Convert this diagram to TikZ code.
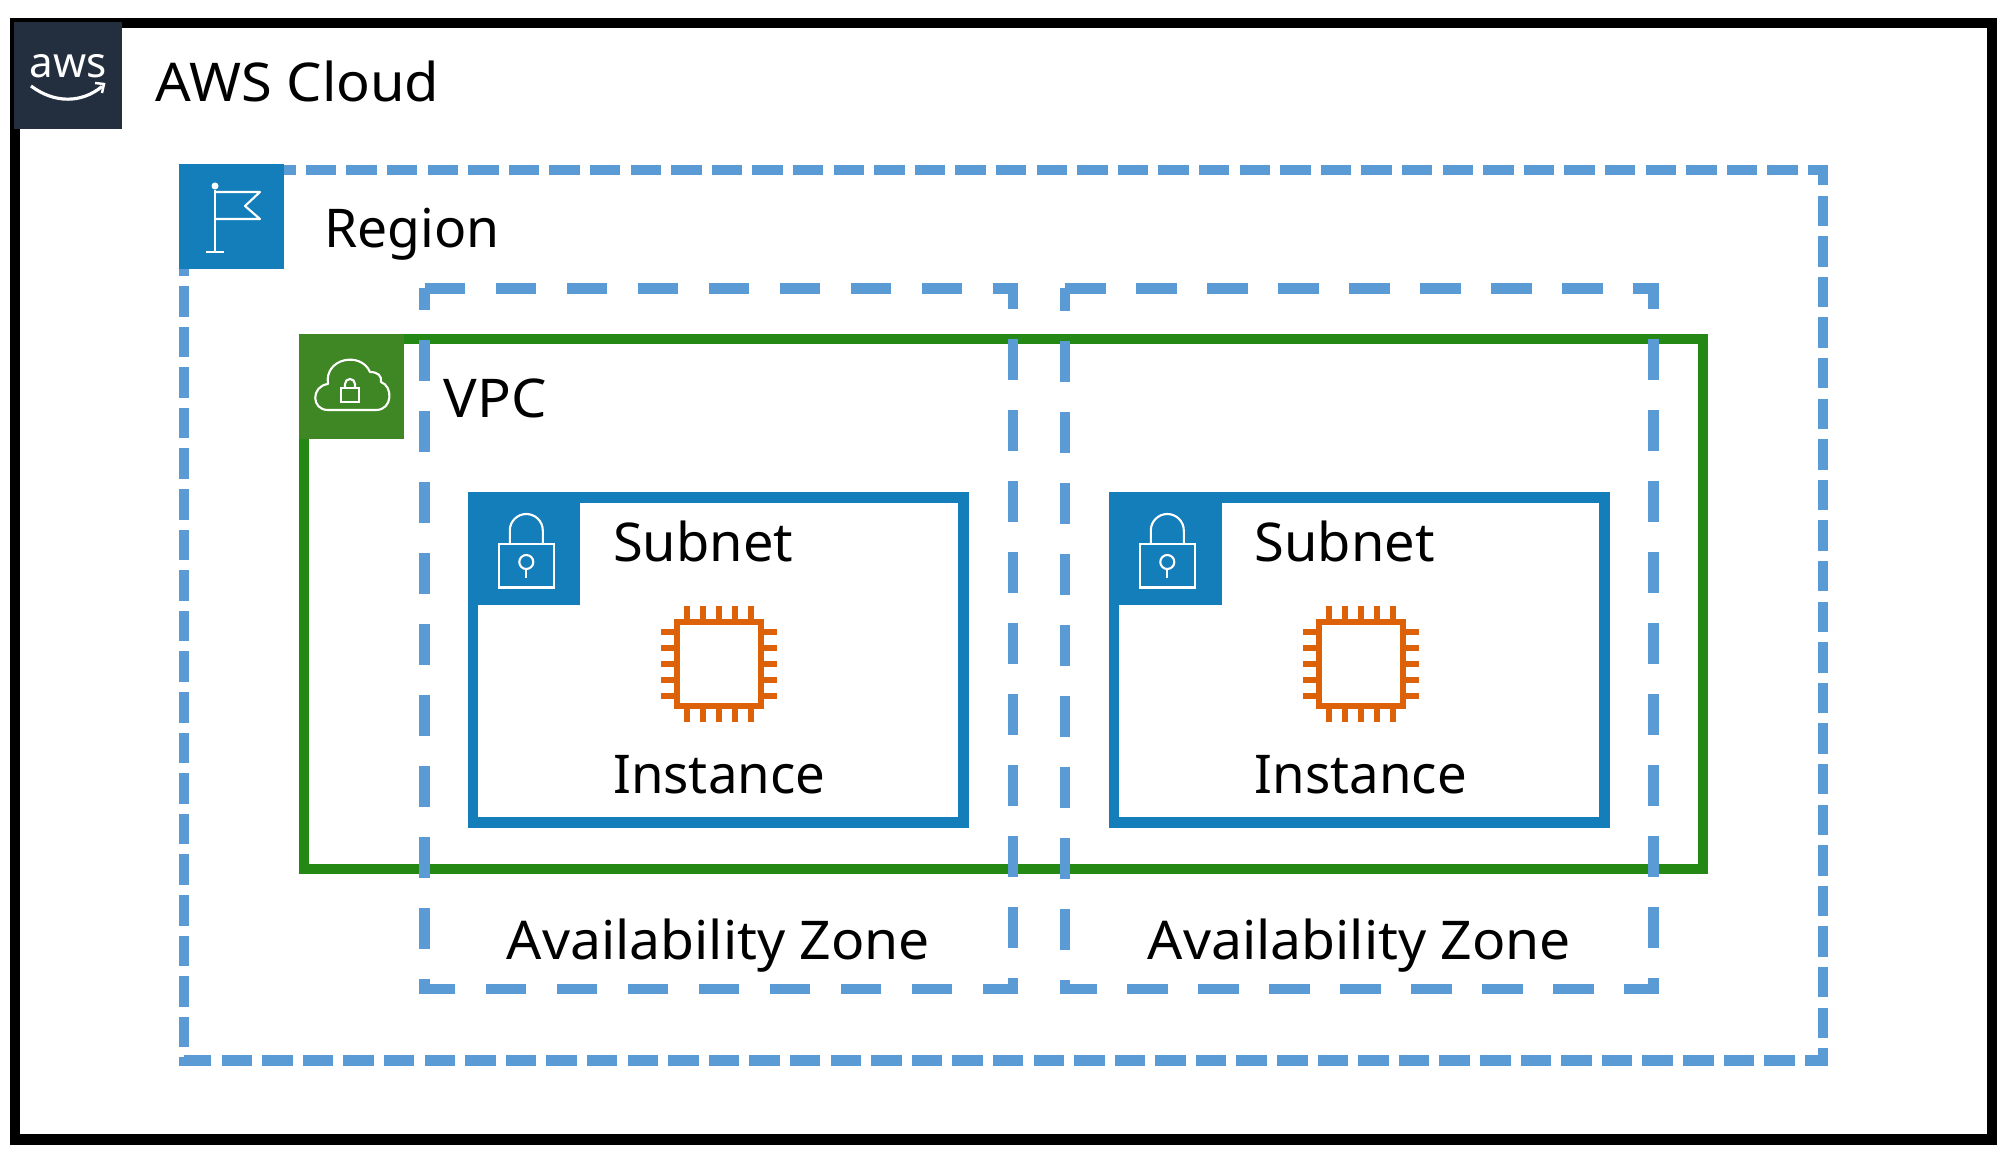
\documentclass[tikz,border=0pt]{standalone}
\usepackage{fontspec}
\setmainfont{Noto Sans}
\definecolor{awsdark}{HTML}{232F3E}
\definecolor{dashblue}{HTML}{5B9BD5}
\definecolor{subnetblue}{HTML}{147EBA}
\definecolor{vpcline}{HTML}{248814}
\definecolor{vpcfill}{HTML}{3F8624}
\definecolor{chiporange}{HTML}{DD6108}
\tikzset{
	boxlabel/.style={anchor=base west,inner sep=0pt,transform shape,font=\fontsize{15.2}{18}\selectfont},
	iconbox/.style={draw=none,inner sep=0pt,outer sep=0pt},
	regionline/.style={draw=dashblue,line width=2.95pt,dash pattern=on 0.305cm off 0.101cm},
	zoneline/.style={draw=dashblue,line width=2.95pt,dash pattern=on 0.407cm off 0.303cm},
	glyph/.style={draw=white,line width=0.6pt},
	pics/padlock/.style={code={
		\draw[glyph] (-0.275,-0.3) rectangle (0.275,0.135);
		\draw[glyph] (-0.165,0.135) -- (-0.165,0.27) arc (180:0:0.165) -- (0.165,0.135);
		\draw[glyph] (0,-0.045) circle (0.07);
		\draw[glyph] (0,-0.115) -- (0,-0.205);
	}},
	pics/chip/.style={code={
		\draw[chiporange,line width=1.45pt] (-0.42,-0.42) rectangle (0.42,0.42);
		\foreach \p in {-0.32,-0.16,0,0.16,0.32} {
			\draw[chiporange,line width=1.45pt] (\p,0.44) -- (\p,0.58);
			\draw[chiporange,line width=1.45pt] (\p,-0.44) -- (\p,-0.58);
			\draw[chiporange,line width=1.45pt] (-0.44,\p) -- (-0.58,\p);
			\draw[chiporange,line width=1.45pt] (0.44,\p) -- (0.58,\p);
		}
	}}
}
\begin{document}
\begin{tikzpicture}
	\useasboundingbox (0,0) rectangle (20.09,-11.55);

	% cloud
	\draw[black,line width=3pt] (0.15,-0.23) rectangle (19.92,-11.395);
	\node[iconbox,fill=awsdark,minimum size=1.07cm] (cloudicon)at(0.68,-0.76) {};
	\node[anchor=base,inner sep=0pt,text=white,font=\fontsize{12}{14}\selectfont] (awstext)at(0.685,-0.775) {aws};
	\coordinate (smileL)at(0.31,-0.86);
	\coordinate (smileR)at(1.02,-0.865);
	\draw[white,line width=0.9pt] (smileL) .. controls (0.55,-1.04) and (0.82,-1.03) .. (smileR);
	\draw[white,line width=0.7pt] (0.95,-0.83) -- (1.04,-0.84) -- (1.02,-0.93);
	\node[boxlabel,xscale=1.048] (cloudlabel)at(1.55,-1.015) {AWS Cloud};

	% region
	\draw[regionline] (1.84,-1.70) -- (18.23,-1.70) -- (18.23,-10.605) -- (1.84,-10.605) -- cycle;
	\node[iconbox,fill=subnetblue,minimum size=1.05cm] (regionicon)at(2.315,-2.17) {};
	\draw[glyph] (2.15,-1.90) -- (2.15,-2.52);
	\draw[glyph] (2.06,-2.52) -- (2.24,-2.52);
	\fill[white] (2.15,-1.86) circle (0.035);
	\draw[glyph,line join=round] (2.15,-1.92) -- (2.60,-1.92) -- (2.45,-2.06) -- (2.60,-2.19) -- (2.15,-2.19);
	\node[boxlabel] (regionlabel)at(3.235,-2.48) {Region};

	% vpc
	\draw[vpcline,line width=3pt] (3.04,-3.39) rectangle (17.03,-8.69);
	\node[iconbox,fill=vpcfill,minimum size=1.05cm] (vpcicon)at(3.515,-3.87) {};
	\draw[glyph,line join=round] (3.28,-4.10) .. controls (3.11,-4.10) and (3.11,-3.86) .. (3.28,-3.84)
		.. controls (3.24,-3.58) and (3.61,-3.51) .. (3.70,-3.72)
		.. controls (3.78,-3.72) and (3.82,-3.76) .. (3.81,-3.82)
		.. controls (3.93,-3.86) and (3.93,-4.10) .. (3.76,-4.10) -- cycle;
	\draw[glyph] (3.41,-4.02) rectangle (3.59,-3.88);
	\draw[glyph] (3.45,-3.88) -- (3.45,-3.84) arc (180:0:0.05) -- (3.55,-3.88);
	\node[boxlabel,xscale=1.05] (vpclabel)at(4.43,-4.175) {VPC};

	% subnets
	\draw[subnetblue,line width=3pt] (4.73,-4.977) rectangle (9.636,-8.223);
	\node[iconbox,fill=subnetblue,minimum size=1.12cm] (subneticonA)at(5.24,-5.485) {};
	\pic at (5.263,-5.575) {padlock};
	\node[boxlabel,xscale=1.014] (subnetlabelA)at(6.125,-5.615) {Subnet};
	\pic at (7.19,-6.64) {chip};
	\node[boxlabel,xscale=0.988] (instancelabelA)at(6.125,-7.93) {Instance};

	\draw[subnetblue,line width=3pt] (11.14,-4.977) rectangle (16.046,-8.223);
	\node[iconbox,fill=subnetblue,minimum size=1.12cm] (subneticonB)at(11.655,-5.485) {};
	\pic at (11.673,-5.575) {padlock};
	\node[boxlabel,xscale=1.014] (subnetlabelB)at(12.54,-5.615) {Subnet};
	\pic at (13.61,-6.64) {chip};
	\node[boxlabel,xscale=0.988] (instancelabelB)at(12.54,-7.93) {Instance};

	% availability zones
	\draw[zoneline] (4.246,-2.885) -- (10.127,-2.885) -- (10.127,-9.89) -- (4.246,-9.89) -- cycle;
	\draw[zoneline] (10.65,-2.885) -- (16.535,-2.885) -- (16.535,-9.89) -- (10.65,-9.89) -- cycle;
	\node[boxlabel,xscale=1.034] (zonelabelA)at(5.06,-9.59) {Availability Zone};
	\node[boxlabel,xscale=1.034] (zonelabelB)at(11.47,-9.59) {Availability Zone};
\end{tikzpicture}
\end{document}
